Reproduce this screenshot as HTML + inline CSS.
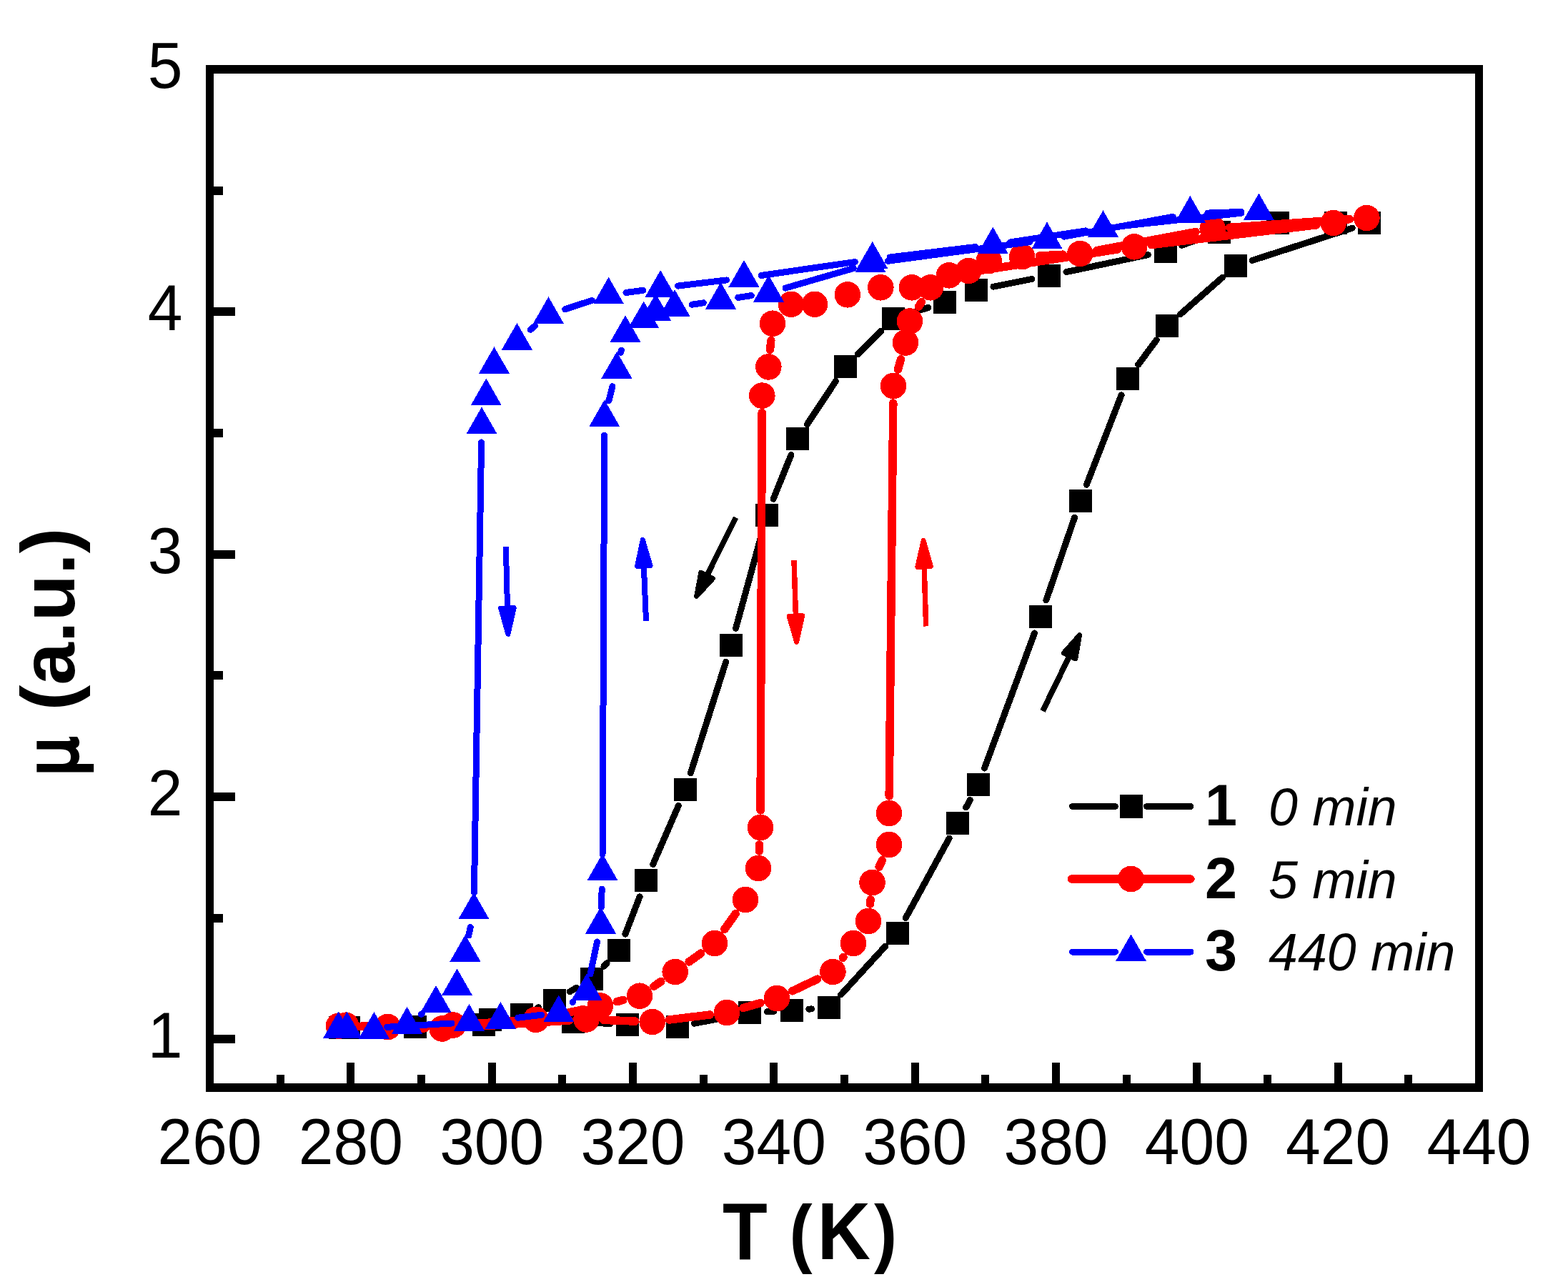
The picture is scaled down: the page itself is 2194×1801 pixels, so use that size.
<!DOCTYPE html>
<html lang="en">
<head>
<meta charset="utf-8">
<title>μ (a.u.) vs T (K)</title>
<style>
html,body{margin:0;padding:0;background:#fff;}
body{width:2194px;height:1801px;}
svg{display:block;}
text{font-family:"Liberation Sans",Arial,Helvetica,sans-serif;fill:#000;}
.tick{font-size:88px;}
.lgn{font-size:81px;font-weight:bold;}
.lgt{font-size:73.5px;font-style:italic;}
</style>
</head>
<body>
<svg width="2194" height="1801" viewBox="0 0 2194 1801">
<rect width="2194" height="1801" fill="#fff"/>

<g fill="#000" shape-rendering="crispEdges">
<rect x="288" y="91" width="1787" height="12"/>
<rect x="288" y="1516" width="1787" height="12"/>
<rect x="288" y="91" width="11" height="1437"/>
<rect x="2064" y="91" width="11" height="1437"/>
<rect x="299" y="430" width="30" height="12"/>
<rect x="299" y="770" width="30" height="12"/>
<rect x="299" y="1109" width="30" height="12"/>
<rect x="299" y="1448" width="30" height="12"/>
<rect x="299" y="261" width="13" height="12"/>
<rect x="299" y="600" width="13" height="12"/>
<rect x="299" y="939" width="13" height="12"/>
<rect x="299" y="1279" width="13" height="12"/>
<rect x="485" y="1487" width="11" height="29"/>
<rect x="683" y="1487" width="11" height="29"/>
<rect x="880" y="1487" width="11" height="29"/>
<rect x="1077" y="1487" width="11" height="29"/>
<rect x="1275" y="1487" width="11" height="29"/>
<rect x="1472" y="1487" width="11" height="29"/>
<rect x="1669" y="1487" width="11" height="29"/>
<rect x="1867" y="1487" width="11" height="29"/>
<rect x="387" y="1504" width="11" height="12"/>
<rect x="584" y="1504" width="11" height="12"/>
<rect x="781" y="1504" width="11" height="12"/>
<rect x="979" y="1504" width="11" height="12"/>
<rect x="1176" y="1504" width="11" height="12"/>
<rect x="1373" y="1504" width="11" height="12"/>
<rect x="1571" y="1504" width="11" height="12"/>
<rect x="1768" y="1504" width="11" height="12"/>
<rect x="1965" y="1504" width="11" height="12"/>
</g>
<g class="tick" text-anchor="middle">
<text transform="translate(293.5,1628.7) scale(0.995,1.035)">260</text>
<text transform="translate(490.8,1628.7) scale(0.995,1.035)">280</text>
<text transform="translate(688.2,1628.7) scale(0.995,1.035)">300</text>
<text transform="translate(885.5,1628.7) scale(0.995,1.035)">320</text>
<text transform="translate(1082.8,1628.7) scale(0.995,1.035)">340</text>
<text transform="translate(1280.2,1628.7) scale(0.995,1.035)">360</text>
<text transform="translate(1477.5,1628.7) scale(0.995,1.035)">380</text>
<text transform="translate(1674.8,1628.7) scale(0.995,1.035)">400</text>
<text transform="translate(1872.1,1628.7) scale(0.995,1.035)">420</text>
<text transform="translate(2069.5,1628.7) scale(0.995,1.035)">440</text>
</g>
<g class="tick" text-anchor="end">
<text transform="translate(255.5,123.0) scale(0.995,1.035)">5</text>
<text transform="translate(255.5,462.3) scale(0.995,1.035)">4</text>
<text transform="translate(255.5,801.7) scale(0.995,1.035)">3</text>
<text transform="translate(255.5,1141.0) scale(0.995,1.035)">2</text>
<text transform="translate(255.5,1480.3) scale(0.995,1.035)">1</text>
</g>
<text transform="scale(0.91,1)" style="font-weight:bold"><tspan x="1111.12" y="1761.80" style="font-size:112.90px">T</tspan> <tspan x="1213.82" y="1760.90" style="font-size:105.96px">(</tspan><tspan x="1256.82" y="1761.80" style="font-size:112.90px">K</tspan><tspan x="1344.10" y="1760.90" style="font-size:105.96px">)</tspan></text>
<text transform="translate(108.00,1086.00) rotate(-90) scale(0.2895,0.3333)" style="font-family:'DejaVu Sans','Liberation Sans',sans-serif;font-size:300px;font-weight:normal;font-style:normal" stroke="#000" stroke-width="13" stroke-linejoin="miter">μ</text>
<text transform="translate(104.36,994.35) rotate(-90) scale(0.3568,0.3507)" style="font-family:'Liberation Sans',sans-serif;font-size:300px;font-weight:bold;font-style:normal">(a.u.)</text>
<g shape-rendering="crispEdges">
<path d="M1844.5 312.0L1812.5 312.0M1763.8 315.7L1730.2 320.8M1682.9 332.7L1653.6 343.3M1606.5 356.5L1492.0 380.6M1444.0 390.4L1390.0 401.2M1298.7 430.5L1273.3 438.5M1232.7 463.3L1200.3 495.7M1169.5 533.4L1129.5 593.6M1106.9 636.7L1082.1 698.3M1066.5 744.6L1029.5 879.4M1015.6 926.4L966.4 1081.6M949.3 1127.5L913.7 1209.5M895.1 1254.8L874.9 1307.2M849.1 1347.8L844.9 1352.2M806.8 1382.2L797.2 1387.8M753.5 1409.8L752.5 1410.2M661.6 1429.3L605.4 1434.7M556.5 1437.1L512.5 1437.4" stroke="#000000" stroke-width="9" stroke-linecap="round" fill="none"/>
<path d="M500.5 1437.0L652.5 1434.0M701.5 1432.7L777.5 1430.3M826.5 1430.9L853.5 1432.6M902.5 1435.1L923.0 1435.9M971.5 1432.3L1025.0 1421.7M1073.5 1415.7L1083.0 1415.3M1131.9 1412.1L1135.6 1411.9M1176.6 1392.0L1238.9 1324.0M1267.3 1284.5L1328.2 1173.0M1351.7 1130.0L1357.3 1119.5M1377.5 1075.0L1447.5 886.0M1463.9 839.8L1503.6 724.2M1520.4 678.2L1569.1 552.8M1592.6 510.3L1618.4 475.7M1651.4 439.9L1710.6 388.1M1752.3 364.4L1892.2 319.1" stroke="#000000" stroke-width="9" stroke-linecap="round" fill="none"/>
<path d="M1899.5 295.5h32v32h-32zM1853.0 296.0h32v32h-32zM1772.0 296.0h32v32h-32zM1690.0 308.5h32v32h-32zM1614.5 335.5h32v32h-32zM1452.0 369.6h32v32h-32zM1350.0 390.0h32v32h-32zM1306.0 407.0h32v32h-32zM1234.0 430.0h32v32h-32zM1167.0 497.0h32v32h-32zM1100.0 598.0h32v32h-32zM1057.0 705.0h32v32h-32zM1007.0 887.0h32v32h-32zM943.0 1089.0h32v32h-32zM888.0 1216.0h32v32h-32zM850.0 1314.0h32v32h-32zM812.0 1354.0h32v32h-32zM760.0 1384.0h32v32h-32zM714.0 1404.0h32v32h-32zM670.0 1411.0h32v32h-32zM565.0 1421.0h32v32h-32zM472.0 1421.5h32v32h-32zM460.0 1421.5h32v32h-32zM661.0 1417.5h32v32h-32zM786.0 1413.5h32v32h-32zM862.0 1418.0h32v32h-32zM931.5 1421.0h32v32h-32zM1033.0 1401.0h32v32h-32zM1091.5 1398.0h32v32h-32zM1144.0 1394.0h32v32h-32zM1239.5 1290.0h32v32h-32zM1324.0 1135.5h32v32h-32zM1353.0 1082.0h32v32h-32zM1440.0 847.0h32v32h-32zM1495.5 685.0h32v32h-32zM1562.0 514.0h32v32h-32zM1617.0 440.0h32v32h-32zM1713.0 356.0h32v32h-32z" fill="#000000"/>
<path d="M1888.5 306.7L1720.6 318.3M1673.1 324.5L1534.9 350.5M1487.3 356.2L1454.2 358.0M1332.3 385.8L1298.8 395.5M1078.8 476.6L1077.5 489.5M1066.2 577.6L1064.1 1134.0M1062.7 1182.0L1062.3 1191.0M1029.2 1278.6L1013.8 1300.4M980.6 1334.1L964.1 1345.9M924.8 1373.5L914.9 1380.2M871.7 1399.5L863.3 1401.7M816.5 1412.5L773.3 1421.8M725.9 1428.4L657.9 1432.9M610.0 1435.2L566.5 1436.3M518.5 1436.1L508.0 1435.6" stroke="#ff0000" stroke-width="11.5" stroke-linecap="round" fill="none"/>
<path d="M498.0 1436.2L594.7 1438.9M642.7 1438.0L796.5 1428.0M844.5 1427.4L888.7 1429.1M936.5 1427.0L993.2 1420.0M1040.1 1410.4L1063.9 1403.6M1108.7 1386.8L1143.7 1370.2M1179.4 1340.5L1180.0 1339.5M1217.4 1265.1L1218.1 1258.9M1230.2 1213.1L1234.3 1203.9M1244.2 1114.0L1249.8 564.0M1256.5 516.9L1260.5 502.6M1285.6 429.1L1289.4 422.7M1351.7 381.6L1563.5 349.0M1611.0 342.5L1841.9 314.8" stroke="#ff0000" stroke-width="11.5" stroke-linecap="round" fill="none"/>
<g fill="#ff0000"><circle cx="1912.4" cy="305.0" r="18.3"/><circle cx="1696.7" cy="320.0" r="18.3"/><circle cx="1511.3" cy="355.0" r="18.3"/><circle cx="1430.2" cy="359.2" r="18.3"/><circle cx="1383.7" cy="365.0" r="18.3"/><circle cx="1355.3" cy="379.0" r="18.3"/><circle cx="1275.8" cy="402.3" r="18.3"/><circle cx="1232.3" cy="402.3" r="18.3"/><circle cx="1185.8" cy="412.3" r="18.3"/><circle cx="1140.0" cy="425.8" r="18.3"/><circle cx="1107.0" cy="425.8" r="18.3"/><circle cx="1081.0" cy="452.7" r="18.3"/><circle cx="1075.3" cy="513.4" r="18.3"/><circle cx="1066.3" cy="553.6" r="18.3"/><circle cx="1064.0" cy="1158.0" r="18.3"/><circle cx="1061.0" cy="1215.0" r="18.3"/><circle cx="1043.0" cy="1259.0" r="18.3"/><circle cx="1000.0" cy="1320.0" r="18.3"/><circle cx="944.7" cy="1360.0" r="18.3"/><circle cx="895.0" cy="1393.7" r="18.3"/><circle cx="840.0" cy="1407.5" r="18.3"/><circle cx="749.8" cy="1426.8" r="18.3"/><circle cx="634.0" cy="1434.5" r="18.3"/><circle cx="542.5" cy="1437.0" r="18.3"/><circle cx="484.0" cy="1434.7" r="18.3"/><circle cx="474.0" cy="1435.6" r="18.3"/><circle cx="618.7" cy="1439.5" r="18.3"/><circle cx="820.5" cy="1426.5" r="18.3"/><circle cx="912.7" cy="1430.0" r="18.3"/><circle cx="1017.0" cy="1417.0" r="18.3"/><circle cx="1087.0" cy="1397.0" r="18.3"/><circle cx="1165.4" cy="1360.0" r="18.3"/><circle cx="1194.0" cy="1320.0" r="18.3"/><circle cx="1215.0" cy="1289.0" r="18.3"/><circle cx="1220.5" cy="1235.0" r="18.3"/><circle cx="1244.0" cy="1182.0" r="18.3"/><circle cx="1244.0" cy="1138.0" r="18.3"/><circle cx="1250.0" cy="540.0" r="18.3"/><circle cx="1267.0" cy="479.5" r="18.3"/><circle cx="1273.0" cy="449.5" r="18.3"/><circle cx="1302.0" cy="402.3" r="18.3"/><circle cx="1328.0" cy="385.3" r="18.3"/><circle cx="1587.2" cy="345.3" r="18.3"/><circle cx="1865.7" cy="312.0" r="18.3"/></g>
<path d="M1737.0 298.2L1567.9 316.6M1519.3 322.9L1413.5 338.9M1365.0 345.5L1245.0 360.0M1196.5 366.5L1065.2 385.5M1016.7 391.9L948.5 400.1M899.9 406.3L875.9 409.5M828.3 420.4L790.7 432.7M748.6 456.0L742.2 461.3M673.6 619.0L663.4 1249.0M658.2 1297.5L655.8 1309.0M590.3 1418.6L589.2 1419.4" stroke="#0000ff" stroke-width="9" stroke-linecap="round" fill="none"/>
<path d="M724.7 1424.2L757.5 1420.3M801.1 1402.5L801.7 1402.0M826.0 1363.0L835.5 1318.0M841.3 1269.5L842.2 1244.0M843.1 1195.0L845.7 609.0M851.8 560.8L857.0 540.7M868.6 493.2L869.4 490.1M968.2 426.2L984.3 423.8M1032.7 416.4L1051.3 413.6M1099.0 403.1L1194.5 375.4M1242.3 365.3L1440.7 338.7M1489.1 331.1L1641.2 303.4M1689.8 298.1L1736.9 296.4" stroke="#0000ff" stroke-width="9" stroke-linecap="round" fill="none"/>
<path d="M541.5 1437.3L632 1432" stroke="#0000ff" stroke-width="9" stroke-linecap="round" fill="none"/>
<path d="M1761.4 270.5L1782.9 308.0L1739.9 308.0zM1543.5 294.3L1565.0 331.8L1522.0 331.8zM1389.3 317.5L1410.8 355.0L1367.8 355.0zM1220.7 338.0L1242.2 375.5L1199.2 375.5zM1041.0 364.0L1062.5 401.5L1019.5 401.5zM924.2 378.0L945.7 415.5L902.7 415.5zM851.6 387.8L873.1 425.3L830.1 425.3zM767.4 415.3L788.9 452.8L745.9 452.8zM723.4 452.0L744.9 489.5L701.9 489.5zM691.5 485.3L713.0 522.8L670.0 522.8zM680.3 529.5L701.8 567.0L658.8 567.0zM674.0 569.5L695.5 607.0L652.5 607.0zM663.0 1248.5L684.5 1286.0L641.5 1286.0zM651.0 1308.0L672.5 1345.5L629.5 1345.5zM639.5 1355.5L661.0 1393.0L618.0 1393.0zM610.0 1379.0L631.5 1416.5L588.5 1416.5zM569.5 1409.0L591.0 1446.5L548.0 1446.5zM523.4 1416.0L544.9 1453.5L501.9 1453.5zM485.5 1415.5L507.0 1453.0L464.0 1453.0zM473.5 1415.5L495.0 1453.0L452.0 1453.0zM656.5 1405.0L678.0 1442.5L635.0 1442.5zM700.4 1402.0L721.9 1439.5L678.9 1439.5zM781.8 1392.5L803.3 1430.0L760.3 1430.0zM821.0 1362.0L842.5 1399.5L799.5 1399.5zM840.5 1269.0L862.0 1306.5L819.0 1306.5zM843.0 1194.5L864.5 1232.0L821.5 1232.0zM845.8 559.5L867.3 597.0L824.3 597.0zM863.0 492.0L884.5 529.5L841.5 529.5zM875.0 441.3L896.5 478.8L853.5 478.8zM900.7 421.5L922.2 459.0L879.2 459.0zM917.5 411.0L939.0 448.5L896.0 448.5zM944.0 405.0L965.5 442.5L922.5 442.5zM1008.5 395.0L1030.0 432.5L987.0 432.5zM1075.5 385.0L1097.0 422.5L1054.0 422.5zM1218.0 343.5L1239.5 381.0L1196.5 381.0zM1465.0 310.5L1486.5 348.0L1443.5 348.0zM1665.3 274.0L1686.8 311.5L1643.8 311.5z" fill="#0000ff"/>
</g>
<g shape-rendering="crispEdges">
<path d="M1029.5 724.5L989.7 804.2" stroke="#000000" stroke-width="8" fill="none"/><path d="M974.6 834.5L980.8 801.4L997.3 809.7z" fill="#000000" stroke="#000000" stroke-width="7.0" stroke-linejoin="round"/>
<path d="M1459.0 995.0L1495.8 919.3" stroke="#000000" stroke-width="8" fill="none"/><path d="M1510.6 888.8L1504.8 922.0L1488.2 913.9z" fill="#000000" stroke="#000000" stroke-width="7.0" stroke-linejoin="round"/>
<path d="M1111.0 784.0L1113.4 860.5" stroke="#ff0000" stroke-width="7.5" fill="none"/><path d="M1114.6 898.4L1104.2 862.3L1122.7 861.7z" fill="#ff0000" stroke="#ff0000" stroke-width="7.0" stroke-linejoin="round"/>
<path d="M1295.7 876.5L1293.2 794.5" stroke="#ff0000" stroke-width="7.5" fill="none"/><path d="M1292.1 756.6L1302.4 792.7L1283.9 793.3z" fill="#ff0000" stroke="#ff0000" stroke-width="7.0" stroke-linejoin="round"/>
<path d="M707.8 765.0L710.0 849.5" stroke="#0000ff" stroke-width="8" fill="none"/><path d="M710.9 887.4L700.7 851.2L719.2 850.8z" fill="#0000ff" stroke="#0000ff" stroke-width="7.0" stroke-linejoin="round"/>
<path d="M904.0 869.0L900.9 793.5" stroke="#0000ff" stroke-width="8" fill="none"/><path d="M899.3 755.6L910.1 791.6L891.6 792.3z" fill="#0000ff" stroke="#0000ff" stroke-width="7.0" stroke-linejoin="round"/>
</g>
<g shape-rendering="crispEdges">
<path d="M1500.5 1128.5H1560.5M1604.5 1128.5H1666" stroke="#000000" stroke-width="9" stroke-linecap="round"/>
<rect x="1567" y="1112" width="32" height="33" fill="#000000"/>
<path d="M1499.5 1230H1666" stroke="#ff0000" stroke-width="11.5" stroke-linecap="round"/>
<circle cx="1582.5" cy="1230" r="18.3" fill="#ff0000"/>
<path d="M1500.5 1332H1560.5M1604.5 1332H1666" stroke="#0000ff" stroke-width="9" stroke-linecap="round"/>
<path d="M1582.5 1307.5L1604 1345L1561 1345z" fill="#0000ff"/>
</g>
<text class="lgn" x="1686" y="1155.0">1</text>
<text class="lgt" x="1775" y="1155.0">0 min</text>
<text class="lgn" x="1686" y="1256.5">2</text>
<text class="lgt" x="1775" y="1256.5">5 min</text>
<text class="lgn" x="1686" y="1358.0">3</text>
<text class="lgt" x="1775" y="1358.0">440 min</text>
</svg>
</body>
</html>
